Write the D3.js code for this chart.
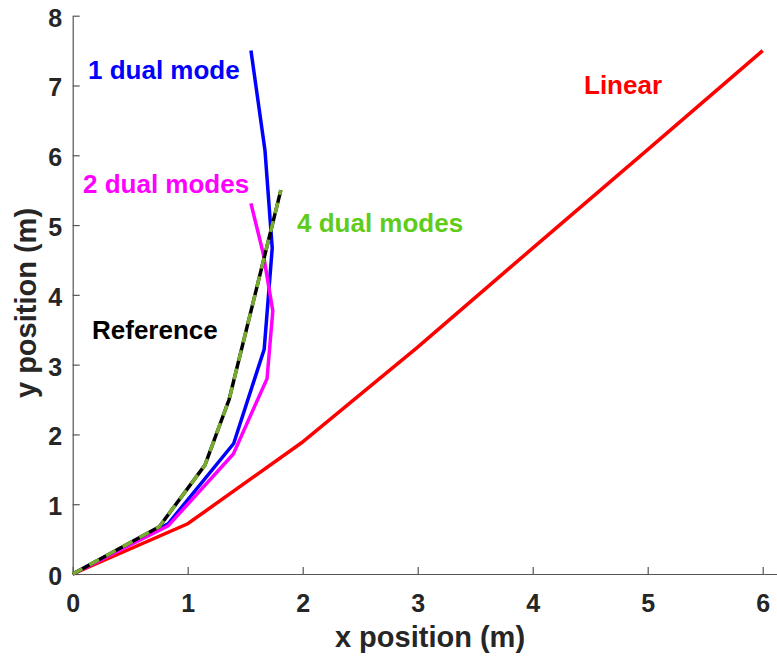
<!DOCTYPE html>
<html>
<head>
<meta charset="utf-8">
<script src="https://cdn.jsdelivr.net/npm/d3@7"></script>
<style>
  html, body { margin: 0; padding: 0; background: #fff; }
  svg { display: block; font-family: "Liberation Sans", Arial, Helvetica, sans-serif; }
</style>
</head>
<body>
<svg id="chart" width="777" height="658"></svg>
<script>
// Trajectories: y position shared sampling, x position per controller
const linearX = [0, 1.0, 1.99, 3.0, 4.0, 5.0, 6.0];
const linearY = [0, 0.72, 1.88, 3.25, 4.67, 6.08, 7.5];

const dual1X = [0, 0.83, 1.40, 1.665, 1.735, 1.672, 1.55];
const dual1Y = [0, 0.72, 1.87, 3.22, 4.67, 6.07, 7.5];

const dual2X = [0, 0.83, 1.397, 1.69, 1.74, 1.657, 1.55];
const dual2Y = [0, 0.69, 1.72, 2.80, 3.77, 4.59, 5.31];

const refX = [0, 0.753, 1.15, 1.36, 1.81];
const refY = [0, 0.678, 1.56, 2.50, 5.5];

const dual4X = [0, 0.753, 1.15, 1.36, 1.81];
const dual4Y = [0, 0.678, 1.56, 2.50, 5.5];

const xTicks = [0, 1, 2, 3, 4, 5, 6];
const yTicks = [0, 1, 2, 3, 4, 5, 6, 7, 8];

const svg = d3.select("#chart");

const x = d3.scaleLinear().domain([0, 6.2]).range([72.7, 72.7 + 6.2 * 115]);
const y = d3.scaleLinear().domain([0, 8]).range([574, 15.7]);

const axisColor = "#555";
const labelColor = "#262626";

// Axes with inward ticks, box off
const gx = svg.append("g").attr("transform", `translate(0,${y(0)})`)
  .call(d3.axisBottom(x).tickValues(xTicks).tickFormat(d3.format("d"))
    .tickSizeInner(-7).tickSizeOuter(0).tickPadding(20.5));
const gy = svg.append("g").attr("transform", `translate(${x(0)},0)`)
  .call(d3.axisLeft(y).tickValues(yTicks).tickFormat(d3.format("d"))
    .tickSizeInner(-7).tickSizeOuter(0).tickPadding(10.5));

[gx, gy].forEach(g => {
  g.select(".domain").attr("stroke", axisColor).attr("stroke-width", 1.2);
  g.selectAll(".tick line").attr("stroke", axisColor).attr("stroke-width", 1.2);
  g.selectAll(".tick text")
    .attr("fill", labelColor)
    .attr("font-size", 25)
    .attr("font-weight", "bold")
    .attr("font-family", "'Liberation Sans', Arial, sans-serif");
});
gy.selectAll(".tick text").attr("dy", "0.42em");

// Axis titles
svg.append("text")
  .attr("x", 430).attr("y", 647)
  .attr("text-anchor", "middle")
  .attr("font-size", 29).attr("font-weight", "bold").attr("fill", labelColor)
  .text("x position (m)");
svg.append("text")
  .attr("transform", "translate(36,303) rotate(-90)")
  .attr("text-anchor", "middle")
  .attr("font-size", 29).attr("font-weight", "bold").attr("fill", labelColor)
  .text("y position (m)");

const line = d3.line().x(d => x(d[0])).y(d => y(d[1]));
const pts = (xs, ys) => xs.map((v, i) => [v, ys[i]]);

const plot = svg.append("g").attr("fill", "none")
  .attr("stroke-linejoin", "miter").attr("stroke-linecap", "butt");

plot.append("path").attr("d", line(pts(linearX, linearY)))
  .attr("stroke", "#ff0000").attr("stroke-width", 3.5);
plot.append("path").attr("d", line(pts(dual1X, dual1Y)))
  .attr("stroke", "#0000ff").attr("stroke-width", 3.5);
plot.append("path").attr("d", line(pts(dual2X, dual2Y)))
  .attr("stroke", "#ff00ff").attr("stroke-width", 3.5);
plot.append("path").attr("d", line(pts(refX, refY)))
  .attr("stroke", "#000000").attr("stroke-width", 3.5);
plot.append("path").attr("d", line(pts(dual4X, dual4Y)))
  .attr("stroke", "#77ac30").attr("stroke-width", 3.5)
  .attr("stroke-dasharray", "11,8");

// Series annotations
const notes = [
  { text: "1 dual mode", x: 88, y: 79, color: "#0000ff" },
  { text: "2 dual modes", x: 83, y: 193, color: "#ff00ff" },
  { text: "4 dual modes", x: 297, y: 232, color: "#5fcc1a" },
  { text: "Reference", x: 92, y: 339, color: "#000000" },
  { text: "Linear", x: 584, y: 94, color: "#ff0000" }
];
svg.append("g").selectAll("text").data(notes).join("text")
  .attr("x", d => d.x).attr("y", d => d.y)
  .attr("font-size", 26).attr("font-weight", "bold")
  .attr("fill", d => d.color)
  .text(d => d.text);
</script>
</body>
</html>
